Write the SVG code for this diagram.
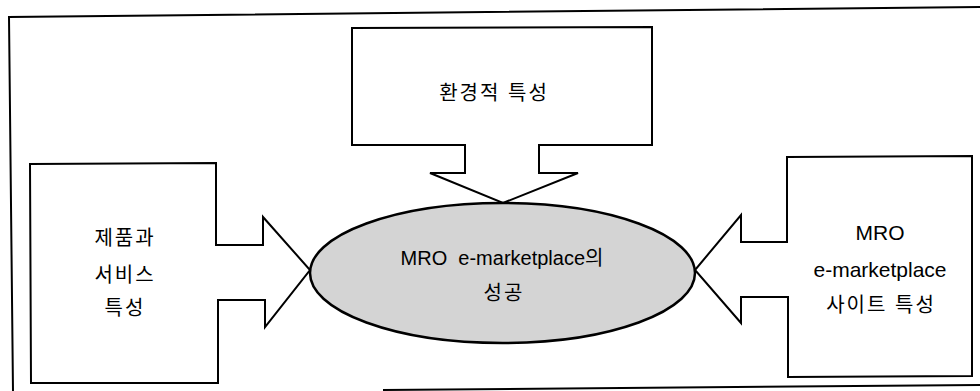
<svg xmlns="http://www.w3.org/2000/svg" width="980" height="391" viewBox="0 0 980 391">
<style>
.frame{fill:none;stroke:#000;stroke-width:2}
.node{fill:#fff;stroke:#000;stroke-width:2;stroke-linejoin:miter}
.ell{fill:#d4d4d4;stroke:#000;stroke-width:2.5}
.t{font-family:"Liberation Sans","Noto Sans CJK KR",sans-serif;font-size:20px;fill:#000;text-anchor:middle}
.k{letter-spacing:2px}
</style>
<rect width="980" height="391" fill="#fff"/>
<g id="frame">
<path class="frame" d="M13 391 L9 17 L980 7"/>
<path class="frame" d="M383 390 L980 385"/>
</g>
<g id="connectors"></g>
<g id="node-env">
<polygon class="node" points="352,28 652,27 652,145 539,145 539,173 578,173 503,203 430,173 465,173 465,145 352,145"/>
<text class="t k" x="494" y="100">환경적 특성</text>
</g>
<g id="node-product">
<polygon class="node" points="30,164 216,163 216,245 263,245 263,217 310,270 265,327 265,300 218,300 218,383 31,383"/>
<text class="t k" x="125" y="245">제품과</text>
<text class="t k" x="125" y="282">서비스</text>
<text class="t k" x="125" y="315">특성</text>
</g>
<g id="node-site">
<polygon class="node" points="787,157 972,156 972,376 788,377 788,297 741,297 741,323 695,270 741,215 741,242 787,242"/>
<text class="t" x="880" y="240" style="font-size:21px">MRO</text>
<text class="t" x="880" y="277" style="font-size:21px">e-marketplace</text>
<text class="t k" x="881" y="312">사이트 특성</text>
</g>
<g id="node-success">
<ellipse class="ell" cx="502.5" cy="273" rx="192.5" ry="70"/>
<text class="t" x="502" y="265" xml:space="preserve">MRO  e-marketplace의</text>
<text class="t k" x="504" y="300">성공</text>
</g>
</svg>
